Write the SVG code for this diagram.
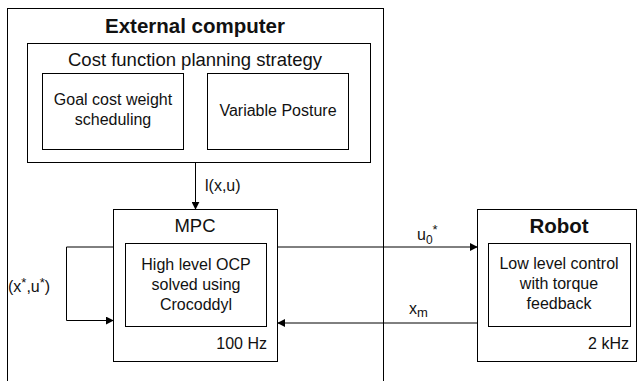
<svg xmlns="http://www.w3.org/2000/svg" width="637" height="381" viewBox="0 0 637 381">
<style>
.box{fill:none;stroke:#000;stroke-width:1}
.t{font-family:"Liberation Sans",Arial,sans-serif;fill:#111}
.c{text-anchor:middle}
.r{text-anchor:end}
.b{font-weight:bold;font-size:20.5px}
.m{font-size:16px}
.l{font-size:18.5px}
.con{fill:none;stroke:#000;stroke-width:1}
</style>
<defs>
<marker id="ah" viewBox="0 0 10 10" refX="9" refY="5" markerWidth="8" markerHeight="8" markerUnits="userSpaceOnUse" orient="auto">
<path d="M0,0 L10,5 L0,10 Z" fill="#000"/>
</marker>
</defs>
<rect width="637" height="381" fill="#fff"/>
<g id="external">
<rect class="box" x="7.5" y="8.5" width="376" height="390"/>
<text class="t c b" x="195" y="33">External computer</text>
</g>
<g id="costfn">
<rect class="box" x="27.5" y="43.5" width="343" height="119"/>
<text class="t c l" x="195" y="66">Cost function planning strategy</text>
</g>
<g id="goal">
<rect class="box" x="42.5" y="73.5" width="141" height="76"/>
<text class="t c m" x="113" y="105">Goal cost weight</text>
<text class="t c m" x="113" y="125">scheduling</text>
</g>
<g id="posture">
<rect class="box" x="207.5" y="73.5" width="141" height="76"/>
<text class="t c m" x="278" y="116">Variable Posture</text>
</g>
<g id="mpc">
<rect class="box" x="113.5" y="209.5" width="164" height="152"/>
<text class="t c l" x="195" y="232">MPC</text>
<rect class="box" x="125.5" y="243.5" width="141" height="83"/>
<text class="t c m" x="196" y="270">High level OCP</text>
<text class="t c m" x="196" y="290">solved using</text>
<text class="t c m" x="196" y="310">Crocoddyl</text>
<text class="t r m" x="267" y="349">100 Hz</text>
</g>
<g id="robot">
<rect class="box" x="477.5" y="209.5" width="159" height="152"/>
<text class="t c b" x="559" y="233">Robot</text>
<rect class="box" x="488.5" y="243.5" width="142" height="83"/>
<text class="t c m" x="559" y="269">Low level control</text>
<text class="t c m" x="559" y="289">with torque</text>
<text class="t c m" x="559" y="309">feedback</text>
<text class="t r m" x="629" y="349">2 kHz</text>
</g>
<g id="connectors">
<path class="con" d="M195.5,162 L195.5,209" marker-end="url(#ah)"/>
<path class="con" d="M113,247 L66.5,247 L66.5,320.5 L113,320.5" marker-end="url(#ah)"/>
<path class="con" d="M278,247 L477,247" marker-end="url(#ah)"/>
<path class="con" d="M477,323 L278,323" marker-end="url(#ah)"/>
<text class="t m" x="205" y="191">l(x,u)</text>
<text class="t m" x="8" y="292">(x<tspan font-size="13" dy="-5">*</tspan><tspan dy="5">,u</tspan><tspan font-size="13" dy="-5">*</tspan><tspan dy="5">)</tspan></text>
<text class="t m" x="417" y="240">u<tspan font-size="12" dy="4">0</tspan><tspan font-size="13" dy="-10">*</tspan></text>
<text class="t m" x="409" y="314">x<tspan font-size="13" dy="3">m</tspan></text>
</g>
</svg>
